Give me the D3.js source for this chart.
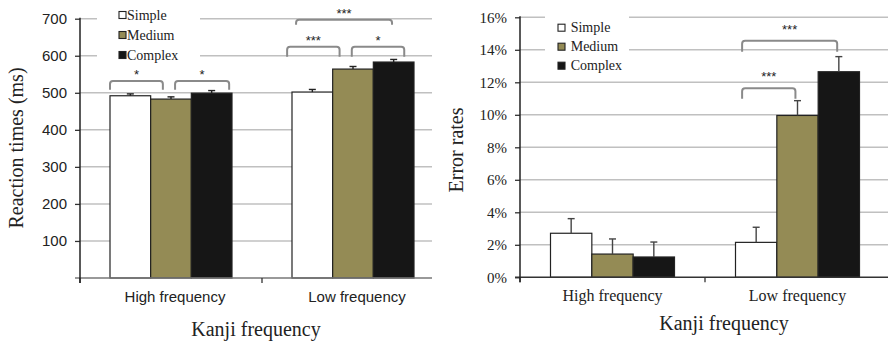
<!DOCTYPE html>
<html>
<head>
<meta charset="utf-8">
<script src="https://cdn.jsdelivr.net/npm/d3@7"></script>
<style>
  body { margin: 0; background: #fff; }
  svg { display: block; }
</style>
</head>
<body>
<svg id="chart" width="888" height="342"></svg>
<script>
// data
const categories = ['High frequency', 'Low frequency'];
const seriesNames = ['Simple', 'Medium', 'Complex'];
const seriesColors = ['#ffffff', '#948b55', '#161616'];

// reaction times (ms), [high, low] per series
const rtSimple = [492, 502];
const rtMedium = [483, 564];
const rtComplex = [499, 583];
const rtErrSimple = [5, 7];
const rtErrMedium = [6, 7];
const rtErrComplex = [7, 7];
const rtTicks = [100, 200, 300, 400, 500, 600, 700];

// error rates (%), [high, low] per series
const erSimple = [2.71, 2.15];
const erMedium = [1.43, 9.96];
const erComplex = [1.25, 12.65];
const erErrSimple = [0.9, 0.93];
const erErrMedium = [0.93, 0.91];
const erErrComplex = [0.92, 0.93];
const erTicks = [0, 2, 4, 6, 8, 10, 12, 14, 16];

// significance brackets: [category, from series + fraction, to series + fraction, top value, end value, label]
const rtBrackets = [
  [0, 0.0, 1.3, 532, 508, '*'],
  [0, 1.6, 2.93, 532, 508, '*'],
  [1, -0.12, 1.17, 624, 597, '***'],
  [1, 1.47, 2.76, 624, 597, '*'],
  [1, 0.1, 2.46, 697, 684, '***']
];
const erBrackets = [
  [1, 0.16, 2.46, 14.56, 13.88, '***'],
  [1, 0.16, 1.45, 11.63, 10.99, '***']
];

const svg = d3.select('#chart');
const serif = '"Liberation Serif", "Times New Roman", serif';
const sans = '"Liberation Sans", Arial, sans-serif';

function drawPanel(opt) {
  const g = svg.append('g');
  const values = opt.values;
  const errs = opt.errs;

  const y = d3.scaleLinear().domain(opt.yDomain).range([opt.bottom, opt.top]);
  const x = d3.scaleBand().domain(categories).range([opt.left, opt.left + opt.band * 2]);
  const xs = d3.scaleBand().domain(seriesNames).range([opt.groupPad, opt.band - opt.groupPad]);

  // gridlines
  g.append('g').selectAll('line')
    .data(opt.ticks.filter(t => t > opt.yDomain[0]))
    .join('line')
    .attr('x1', opt.left).attr('x2', opt.right)
    .attr('y1', d => y(d)).attr('y2', d => y(d))
    .attr('stroke', '#c0c0c0').attr('stroke-width', 1.5);

  // legend background hides gridlines
  g.append('rect')
    .attr('x', opt.legend.boxX).attr('y', 0)
    .attr('width', opt.legend.boxW).attr('height', opt.legend.boxH)
    .attr('fill', '#fff');

  // bars
  const rows = [];
  categories.forEach((c, ci) => {
    seriesNames.forEach((s, si) => {
      rows.push({ c, s, si, v: values[si][ci], e: errs[si][ci] });
    });
  });

  const barX = d => x(d.c) + xs(d.s);

  g.append('g').selectAll('rect')
    .data(rows)
    .join('rect')
    .attr('x', barX)
    .attr('y', d => y(d.v))
    .attr('width', xs.bandwidth())
    .attr('height', d => y(opt.yDomain[0]) - y(d.v))
    .attr('fill', d => seriesColors[d.si])
    .attr('stroke', '#222')
    .attr('stroke-width', 1.2);

  // error bars (upper half)
  const eb = g.append('g').attr('stroke', opt.errColor).attr('stroke-width', 1.4);
  eb.selectAll('line.stem')
    .data(rows)
    .join('line')
    .attr('class', 'stem')
    .attr('x1', d => barX(d) + xs.bandwidth() / 2)
    .attr('x2', d => barX(d) + xs.bandwidth() / 2)
    .attr('y1', d => y(d.v))
    .attr('y2', d => y(d.v + d.e));
  eb.selectAll('line.cap')
    .data(rows)
    .join('line')
    .attr('class', 'cap')
    .attr('x1', d => barX(d) + xs.bandwidth() / 2 - opt.cap)
    .attr('x2', d => barX(d) + xs.bandwidth() / 2 + opt.cap)
    .attr('y1', d => y(d.v + d.e))
    .attr('y2', d => y(d.v + d.e));

  // x axis baseline
  g.append('line')
    .attr('x1', opt.left - 5).attr('x2', opt.right)
    .attr('y1', y(opt.yDomain[0])).attr('y2', y(opt.yDomain[0]))
    .attr('stroke', opt.baseColor).attr('stroke-width', 1.5);
  // category separator ticks
  g.append('g').selectAll('line')
    .data([opt.left, opt.left + opt.band])
    .join('line')
    .attr('x1', d => d).attr('x2', d => d)
    .attr('y1', y(opt.yDomain[0])).attr('y2', y(opt.yDomain[0]) + 5)
    .attr('stroke', '#333').attr('stroke-width', 1.3);

  // y axis
  const yAxis = d3.axisLeft(y)
    .tickValues(opt.ticks)
    .tickSize(5)
    .tickPadding(8)
    .tickFormat(opt.tickFormat);
  const ya = g.append('g')
    .attr('transform', `translate(${opt.left},0)`)
    .call(yAxis);
  ya.select('.domain').remove();
  ya.selectAll('.tick line').attr('stroke', '#333').attr('stroke-width', 1.3);
  ya.selectAll('text')
    .attr('fill', '#222')
    .style('font-family', opt.tickFont)
    .style('font-size', opt.tickSize + 'px');
  g.append('line')
    .attr('x1', opt.left).attr('x2', opt.left)
    .attr('y1', opt.top - 1).attr('y2', y(opt.yDomain[0]) + 5)
    .attr('stroke', '#222').attr('stroke-width', 1.5);

  // category labels
  g.append('g').selectAll('text')
    .data(categories)
    .join('text')
    .attr('x', d => x(d) + opt.band / 2 + opt.catShift)
    .attr('y', opt.catY)
    .attr('text-anchor', 'middle')
    .attr('fill', '#222')
    .style('font-family', opt.catFont)
    .style('font-size', opt.catSize + 'px')
    .text(d => d);

  // axis titles
  g.append('text')
    .attr('x', opt.xTitleX).attr('y', opt.xTitleY)
    .attr('text-anchor', 'middle')
    .attr('fill', '#222')
    .style('font-family', serif).style('font-size', '20px')
    .text('Kanji frequency');
  g.append('text')
    .attr('transform', `translate(${opt.yTitleX},${opt.yTitleY}) rotate(-90)`)
    .attr('text-anchor', 'middle')
    .attr('fill', '#222')
    .style('font-family', serif).style('font-size', '20px')
    .text(opt.yTitle);

  // legend
  const lg = g.append('g').selectAll('g')
    .data(seriesNames)
    .join('g')
    .attr('transform', (d, i) => `translate(${opt.legend.x},${opt.legend.y + i * opt.legend.step})`);
  lg.append('rect')
    .attr('x', 0).attr('y', -3.5)
    .attr('width', 7).attr('height', 7)
    .attr('fill', (d, i) => seriesColors[i])
    .attr('stroke', '#222').attr('stroke-width', 1.1);
  lg.append('text')
    .attr('x', opt.legend.textDx).attr('y', 4.5)
    .attr('fill', '#222')
    .style('font-family', serif).style('font-size', '14px')
    .text(d => d);

  // significance brackets
  const bx = (ci, pos) => {
    const si = Math.floor(pos);
    return x(categories[ci]) + xs(seriesNames[Math.max(0, si)]) + (pos - Math.max(0, si)) * xs.bandwidth();
  };
  const bg = g.append('g');
  opt.brackets.forEach(b => {
    const x1 = bx(b[0], b[1]);
    const x2 = bx(b[0], b[2]);
    const yt = y(b[3]);
    const ye = y(b[4]);
    const r = 3;
    const p = d3.path();
    p.moveTo(x1, ye);
    p.lineTo(x1, yt + r);
    p.quadraticCurveTo(x1, yt, x1 + r, yt);
    p.lineTo(x2 - r, yt);
    p.quadraticCurveTo(x2, yt, x2, yt + r);
    p.lineTo(x2, ye);
    bg.append('path')
      .attr('d', p.toString())
      .attr('fill', 'none')
      .attr('stroke', '#8a8a8a')
      .attr('stroke-width', 2);
    bg.append('text')
      .attr('x', (x1 + x2) / 2)
      .attr('y', yt - opt.starGap)
      .attr('text-anchor', 'middle')
      .attr('fill', '#222')
      .style('font-family', sans)
      .style('font-size', '13px')
      .text(b[5]);
  });
}

drawPanel({
  values: [rtSimple, rtMedium, rtComplex],
  errs: [rtErrSimple, rtErrMedium, rtErrComplex],
  yDomain: [0, 700],
  ticks: rtTicks,
  tickFormat: d3.format('d'),
  tickFont: sans, tickSize: 15,
  top: 18.7, bottom: 278,
  left: 80, right: 432, band: 182, groupPad: 30,
  cap: 3.5, errColor: '#222', baseColor: '#777',
  catFont: sans, catSize: 15, catY: 302, catShift: 4,
  xTitleX: 256, xTitleY: 336,
  yTitle: 'Reaction times (ms)', yTitleX: 23, yTitleY: 148,
  legend: { x: 119, y: 15, step: 20, textDx: 8, boxX: 97, boxW: 103, boxH: 62 },
  brackets: rtBrackets, starGap: 2
});

drawPanel({
  values: [erSimple, erMedium, erComplex],
  errs: [erErrSimple, erErrMedium, erErrComplex],
  yDomain: [0, 16],
  ticks: erTicks,
  tickFormat: d => d + '%',
  tickFont: serif, tickSize: 15,
  top: 17.3, bottom: 277.3,
  left: 520, right: 888, band: 185, groupPad: 30.5,
  cap: 3.5, errColor: '#444', baseColor: '#333',
  catFont: serif, catSize: 16, catY: 301, catShift: 0,
  xTitleX: 724, xTitleY: 330,
  yTitle: 'Error rates', yTitleX: 463, yTitleY: 150,
  legend: { x: 558, y: 27.7, step: 19, textDx: 12.7, boxX: 545, boxW: 84, boxH: 58 },
  brackets: erBrackets, starGap: 7
});
</script>
</body>
</html>
